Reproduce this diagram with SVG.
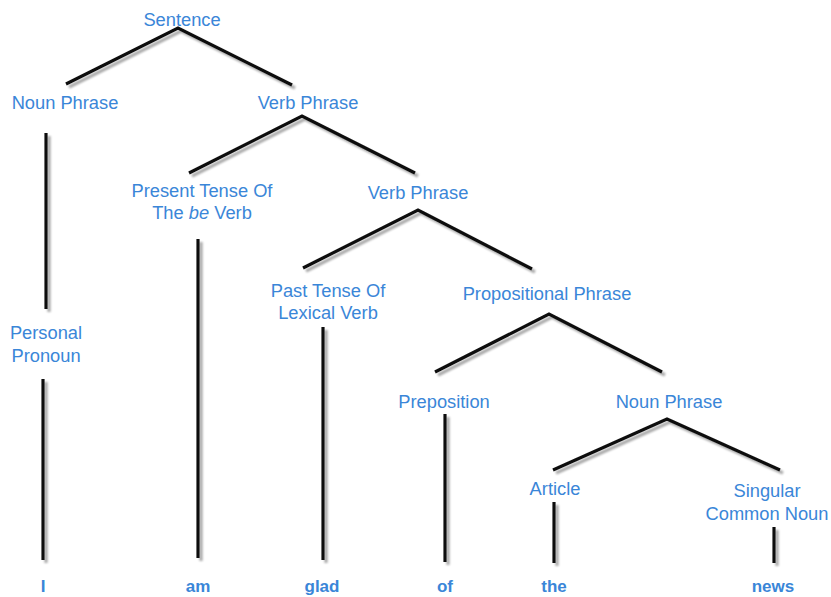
<svg xmlns="http://www.w3.org/2000/svg" width="831" height="597" viewBox="0 0 831 597">
<defs>
<filter id="sh" x="-20%" y="-20%" width="140%" height="140%">
<feGaussianBlur in="SourceAlpha" stdDeviation="1.2" result="b"/>
<feOffset in="b" dx="3" dy="3" result="o"/>
<feComponentTransfer in="o" result="g"><feFuncA type="linear" slope="0.35"/></feComponentTransfer>
<feMerge><feMergeNode in="g"/><feMergeNode in="SourceGraphic"/></feMerge>
</filter>
</defs>
<style>
.t{font-family:"Liberation Sans",Arial,sans-serif;font-size:18.3px;fill:#3a86d8;text-anchor:middle}
.w{font-family:"Liberation Sans",Arial,sans-serif;font-size:17px;font-weight:bold;fill:#3a86d8;text-anchor:middle}
.c line,.c polyline{stroke:#111;stroke-width:3.2;fill:none;stroke-linecap:butt;stroke-linejoin:miter}
</style>
<rect width="831" height="597" fill="#fff"/>
<g class="c" id="connectors" filter="url(#sh)">
<polyline points="66,84 178,28 292,85"/>
<polyline points="189,173 302,116 415,173"/>
<polyline points="303,268 418,210 532,269"/>
<polyline points="435,372 549,314 662,372"/>
<polyline points="553,470 667,419 780,470"/>
<line x1="46" y1="133" x2="46" y2="309"/>
<line x1="43" y1="379" x2="43" y2="560"/>
<line x1="198" y1="239" x2="198" y2="558"/>
<line x1="323" y1="327" x2="323" y2="560"/>
<line x1="445" y1="414" x2="445" y2="562"/>
<line x1="554" y1="502" x2="554" y2="563"/>
<line x1="774" y1="527" x2="774" y2="563"/>
</g>
<g id="n-sentence"><text class="t" x="182" y="26">Sentence</text></g>
<g id="n-np1"><text class="t" x="65" y="109">Noun Phrase</text></g>
<g id="n-vp1"><text class="t" x="308" y="109">Verb Phrase</text></g>
<g id="n-present"><text class="t" x="202" y="197">Present Tense Of</text><text class="t" x="202" y="219">The <tspan font-style="italic">be</tspan> Verb</text></g>
<g id="n-vp2"><text class="t" x="418" y="199">Verb Phrase</text></g>
<g id="n-personal"><text class="t" x="46" y="339">Personal</text><text class="t" x="46" y="362">Pronoun</text></g>
<g id="n-past"><text class="t" x="328" y="297">Past Tense Of</text><text class="t" x="328" y="319">Lexical Verb</text></g>
<g id="n-pp"><text class="t" x="547" y="300">Propositional Phrase</text></g>
<g id="n-prep"><text class="t" x="444" y="408">Preposition</text></g>
<g id="n-np2"><text class="t" x="669" y="408">Noun Phrase</text></g>
<g id="n-article"><text class="t" x="555" y="495">Article</text></g>
<g id="n-scn"><text class="t" x="767" y="497">Singular</text><text class="t" x="767" y="520">Common Noun</text></g>
<g id="w-i"><text class="w" x="43" y="592">I</text></g>
<g id="w-am"><text class="w" x="198" y="592">am</text></g>
<g id="w-glad"><text class="w" x="322" y="592">glad</text></g>
<g id="w-of"><text class="w" x="445" y="592">of</text></g>
<g id="w-the"><text class="w" x="554" y="592">the</text></g>
<g id="w-news"><text class="w" x="773" y="592">news</text></g>
</svg>
